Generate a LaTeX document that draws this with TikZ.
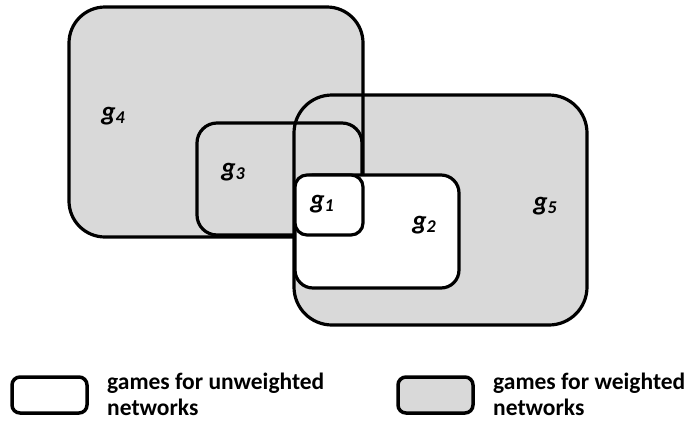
\documentclass[tikz,border=0pt]{standalone}
\usepackage{fontspec}
\setmainfont{Carlito}
\definecolor{setgray}{RGB}{217,217,217}
\tikzset{
  setline/.style={line width=3.2pt, draw=black},
  lbl/.style={font=\fontsize{27}{30}\selectfont\bfseries\itshape, inner sep=0pt},
  legtext/.style={font=\fontsize{23.5}{26}\selectfont\bfseries, align=left, inner sep=0pt, anchor=west},
}
\newcommand{\gl}[1]{g\raisebox{-0.25ex}{\fontsize{18}{18}\selectfont\bfseries\itshape #1}}
\begin{document}
\begin{tikzpicture}[x=1pt,y=-1pt]
\useasboundingbox (0,0) rectangle (687,421);
% fills
\fill[setgray, rounded corners=36pt] (69,7) rectangle (363,237);
\fill[setgray, rounded corners=38pt] (294,95) rectangle (587,325);
\fill[setgray, rounded corners=20pt] (197,123) rectangle (362,235);
% outlines
\draw[setline, rounded corners=36pt] (69,7) rectangle (363,237);
\draw[setline, rounded corners=38pt] (294,95) rectangle (587,325);
\draw[setline, rounded corners=20pt] (197,123) rectangle (362,235);
% white sets
\filldraw[setline, fill=white, rounded corners=18pt] (295,175) rectangle (459,288);
\filldraw[setline, fill=white, rounded corners=12pt] (295,175) rectangle (363,235);
% labels
\node[lbl] (g4) at (113,116) {\gl{4}};
\node[lbl] (g3) at (233,172) {\gl{3}};
\node[lbl] (g1) at (322,204) {\gl{1}};
\node[lbl] (g2) at (424,225) {\gl{2}};
\node[lbl] (g5) at (545,206) {\gl{5}};
% legend
\filldraw[line width=3.5pt, fill=white, rounded corners=8pt] (12,377) rectangle (87,413);
\filldraw[line width=3.5pt, fill=setgray, rounded corners=8pt] (398,377) rectangle (473,413);
\node[legtext] (lu) at (107,394.5) {games for unweighted\\networks};
\node[legtext] (lw) at (493,394.5) {games for weighted\\networks};
\end{tikzpicture}
\end{document}
